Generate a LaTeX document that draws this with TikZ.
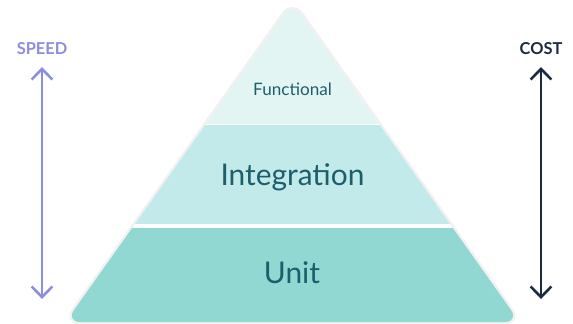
\documentclass[tikz,border=0pt]{standalone}
\usepackage{fontspec}
\setmainfont{Lato}
\usepackage{tikz}
\usetikzlibrary{arrows.meta,positioning}
\definecolor{tierTop}{HTML}{E3F5F3}
\definecolor{tierMid}{HTML}{C2EAEA}
\definecolor{tierBase}{HTML}{91D8D2}
\definecolor{tierText}{HTML}{1D5E6B}
\definecolor{speedPurple}{HTML}{8C8DE0}
\definecolor{costNavy}{HTML}{1B2A44}
\definecolor{haloGray}{HTML}{F3F0F1}
\tikzset{
  tierlabel/.style={
    text=tierText,
    inner sep=0pt,
    anchor=base
  },
  axislabel/.style={
    inner sep=0pt,
    anchor=base,
    font=\fontsize{14}{16}\selectfont\bfseries
  },
  axisarrow/.style={
    {Straight Barb[length=3.2mm,width=6.2mm]}-{Straight Barb[length=3.2mm,width=6.2mm]},
    line width=2.2pt,
    line join=round,
    line cap=round
  },
  gap/.style={white, line width=#1}
}

\begin{document}
\begin{tikzpicture}[x=0.03cm, y=-0.03cm]
  \useasboundingbox (0,0) rectangle (573,323);

  % pyramid corners
  \coordinate (apex) at (292.5,2);
  \coordinate (baseR) at (519.5,322);
  \coordinate (baseL) at (65.5,322);

  % soft rim, then the three tiers clipped to the pyramid
  \draw[haloGray, line width=4pt, rounded corners=4.5mm] (apex) -- (baseR) -- (baseL) -- cycle;
  \begin{scope}
    \clip[rounded corners=4.5mm] (apex) -- (baseR) -- (baseL) -- cycle;
    \fill[tierTop] (0,0) rectangle (573,124.5);
    \fill[tierMid] (0,124.5) rectangle (573,225.5);
    \fill[tierBase] (0,225.5) rectangle (573,323);
    \draw[gap=0.5mm] (0,124.5) -- (573,124.5);
    \draw[gap=1.2mm] (0,225.5) -- (573,225.5);
  \end{scope}

  \node[tierlabel, font=\fontsize{14.6}{17}\selectfont] (functional) at (292.5,95) {Functional};
  \node[tierlabel, font=\fontsize{25.5}{30}\selectfont] (integration) at (292.5,185.5) {Integration};
  \node[tierlabel, font=\fontsize{25.5}{30}\selectfont] (unit) at (292,283) {Unit};

  % speed and cost axes
  \node[axislabel, text=speedPurple] (speed) at (42,54) {SPEED};
  \node[axislabel, text=costNavy] (cost) at (541,54) {COST};
  \coordinate (speedTop) at (42,67);
  \coordinate (speedBot) at (42,299);
  \coordinate (costTop) at (541,67);
  \coordinate (costBot) at (541,299);

  \draw[axisarrow, speedPurple] (speedTop) -- (speedBot);
  \draw[axisarrow, costNavy] (costTop) -- (costBot);
\end{tikzpicture}
\end{document}
